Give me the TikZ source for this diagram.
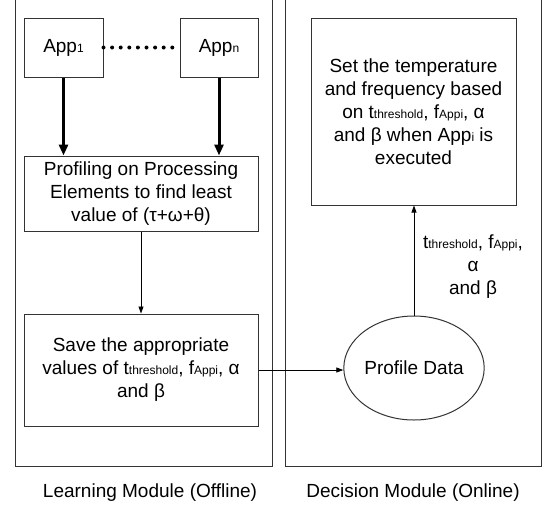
\documentclass[tikz,border=0pt]{standalone}
\usepackage{fontspec}
\setmainfont{Liberation Sans}
\usetikzlibrary{arrows.meta, shapes.geometric}
\newcommand{\lowtext}[1]{{\fontsize{12}{12}\selectfont #1}}

\begin{document}
\begin{tikzpicture}[x=1pt, y=-1pt, font=\fontsize{19}{23}\selectfont,
	block/.style={draw=black!80, line width=1pt, inner sep=0pt, align=center},
	fatarrow/.style={line width=3pt, -{Triangle[length=11pt,width=9pt]}},
	thinarrow/.style={line width=0.8pt, -{Triangle[length=7pt,width=5pt]}}]
	\useasboundingbox (0,0) rectangle (549,507);
	%module frames
	\draw[black!80, line width=1pt] (15,0) -- (15,466) -- (272,466) -- (272,0);
	\draw[black!80, line width=1pt] (285,0) -- (285,466) -- (541,466) -- (541,0);
	\node (learn) at (150,493) {Learning Module (Offline)};
	\node (decide) at (413,493) {Decision Module (Online)};
	%learning module
	\node[block, minimum width=79, minimum height=59] (app1) at (63.5,47.5) {App\lowtext{1}};
	\node[block, minimum width=78, minimum height=59] (appn) at (219,47.5) {App\lowtext{n}};
	\draw[line width=4pt, line cap=round, dash pattern=on 0pt off 8.6pt, shorten >=7pt] (app1.east) -- (appn.west);
	\node[block, minimum width=234, minimum height=75] (prof) at (141,193.5) {Profiling on Processing\\Elements to find least\\value of (τ+ω+θ)};
	\node[block, minimum width=234, minimum height=112] (save) at (141,370) {Save the appropriate\\values of t\lowtext{threshold}, f\lowtext{Appi}, α\\and β};
	\draw[fatarrow] (app1.south) -- (app1.south |- prof.north);
	\draw[fatarrow] (appn.south) -- (appn.south |- prof.north);
	\draw[thinarrow] (prof.south) -- (save.north);
	%decision module
	\node[block, minimum width=205, minimum height=187] (set) at (413.5,111.5) {Set the temperature\\and frequency based\\on t\lowtext{threshold}, f\lowtext{Appi}, α\\and β when App\lowtext{i} is\\executed};
	\node[block, ellipse, minimum width=126, minimum height=104] (pd) at (414,368) {Profile Data};
	\node[align=center] (vals) at (473,267) {t\lowtext{threshold}, f\lowtext{Appi},\\α\\and β};
	\draw[thinarrow] (save.east) -- (save.east -| pd.west);
	\draw[thinarrow] (pd.north) -- (pd.north |- set.south);
\end{tikzpicture}
\end{document}
